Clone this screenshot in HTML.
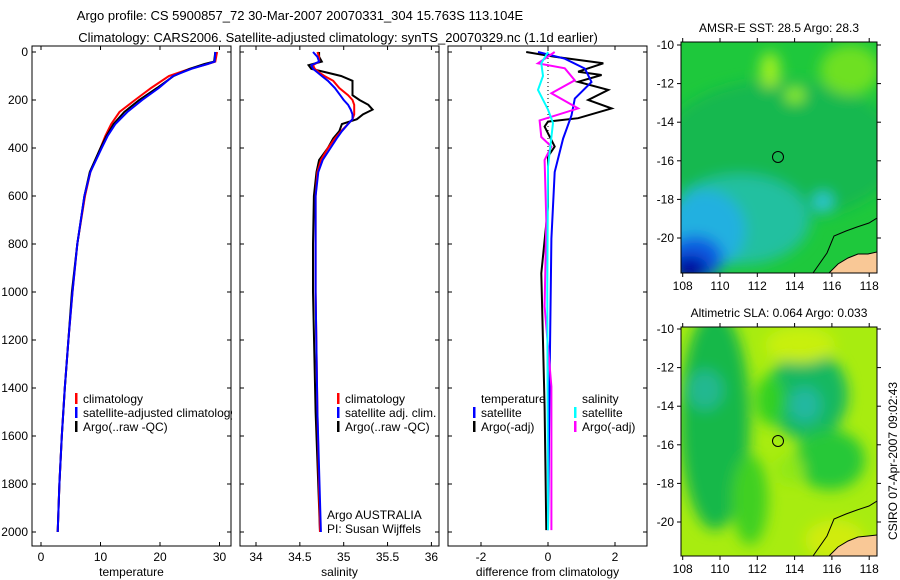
<!DOCTYPE html>
<html><head><meta charset="utf-8">
<style>
body{margin:0;background:#fff;}
svg{display:block;font-family:"Liberation Sans",sans-serif;}
</style></head>
<body>
<svg id="fig" width="900" height="580" viewBox="0 0 900 580">
<defs>
<filter id="blur6" x="-50%" y="-50%" width="200%" height="200%"><feGaussianBlur stdDeviation="7"/></filter>
<clipPath id="clipMap1"><rect x="681" y="42" width="196" height="231"/></clipPath>
<clipPath id="clipMap2"><rect x="681" y="327" width="196" height="229"/></clipPath>
<clipPath id="clipP1"><rect x="32" y="46" width="200" height="500"/></clipPath>
</defs>
<text x="300" y="20" font-size="13" text-anchor="middle">Argo profile: CS 5900857_72 30-Mar-2007 20070331_304 15.763S 113.104E</text>
<text x="338" y="42" font-size="13" text-anchor="middle">Climatology: CARS2006. Satellite-adjusted climatology: synTS_20070329.nc (1.1d earlier)</text>

<!-- Map 1: SST -->
<g>
<g clip-path="url(#clipMap1)">
<rect x="681" y="42" width="196" height="231" fill="#1ec83c"/>
<g filter="url(#blur6)">
<ellipse cx="780" cy="150" rx="120" ry="70" fill="#16b850"/>
<ellipse cx="740" cy="220" rx="70" ry="45" fill="#20c0a0"/>
<ellipse cx="705" cy="230" rx="40" ry="40" fill="#22b0e0"/>
<ellipse cx="695" cy="258" rx="28" ry="22" fill="#0a5ae0"/>
<ellipse cx="690" cy="268" rx="18" ry="12" fill="#0000a0"/>
<ellipse cx="823" cy="202" rx="9" ry="9" fill="#30c8e0"/>
<ellipse cx="850" cy="70" rx="30" ry="25" fill="#6ee020"/>
<ellipse cx="770" cy="70" rx="10" ry="18" fill="#a0f020"/>
<ellipse cx="795" cy="95" rx="10" ry="8" fill="#90f020"/>
</g>
<polygon points="829,273 838,264 848,258 858,254 868,254 877,252 877,273" fill="#f9c896"/>
<polyline points="813,273 827,253 834,236 846,231 857,227 869,223 877,218" fill="none" stroke="#000" stroke-width="1"/>
<polyline points="829,273 838,264 848,258 858,254 868,254 877,252" fill="none" stroke="#000" stroke-width="1"/>
<circle cx="778" cy="157" r="5.5" fill="none" stroke="#000" stroke-width="1"/>
</g>
<rect x="681" y="42" width="196" height="231" fill="none" stroke="#000"/>
<text x="779" y="32" font-size="12" text-anchor="middle">AMSR-E SST: 28.5 Argo: 28.3</text>
</g>

<!-- Map 2: SLA -->
<g>
<g clip-path="url(#clipMap2)">
<rect x="681" y="327" width="196" height="229" fill="#a8ec10"/>
<g filter="url(#blur6)">
<ellipse cx="715" cy="420" rx="35" ry="110" fill="#18b848"/>
<ellipse cx="705" cy="390" rx="18" ry="20" fill="#20b890"/>
<ellipse cx="808" cy="395" rx="40" ry="45" fill="#14b860"/>
<ellipse cx="805" cy="405" rx="16" ry="18" fill="#20b8a0"/>
<ellipse cx="770" cy="400" rx="14" ry="25" fill="#30d020"/>
<ellipse cx="830" cy="460" rx="35" ry="30" fill="#28c838"/>
<ellipse cx="750" cy="500" rx="18" ry="45" fill="#40d020"/>
<ellipse cx="790" cy="470" rx="14" ry="14" fill="#90e818"/>
<ellipse cx="800" cy="345" rx="35" ry="18" fill="#c8f010"/>
<ellipse cx="835" cy="540" rx="30" ry="20" fill="#d0ec10"/>
</g>
<polygon points="829,556 838,547 848,541 858,537 868,536 877,535 877,556" fill="#f9c896"/>
<polyline points="813,556 827,536 834,519 846,514 857,510 869,506 877,501" fill="none" stroke="#000" stroke-width="1"/>
<polyline points="829,556 838,547 848,541 858,537 868,536 877,535" fill="none" stroke="#000" stroke-width="1"/>
<circle cx="778" cy="441" r="5.5" fill="none" stroke="#000" stroke-width="1"/>
</g>
<rect x="681" y="327" width="196" height="229" fill="none" stroke="#000"/>
<text x="779" y="317" font-size="12" text-anchor="middle">Altimetric SLA: 0.064 Argo: 0.033</text>
</g>
<text x="0" y="0" font-size="12" text-anchor="middle" transform="translate(897,461) rotate(-90)">CSIRO 07-Apr-2007 09:02:43</text>
</svg>
<script>
// ---- data ----
var depthTicks = [0,200,400,600,800,1000,1200,1400,1600,1800,2000];
var tempTicks = [0,10,20,30];
var salTicks = [34,34.5,35,35.5,36];
var diffTicks = [-2,0,2];
var lonTicks = [108,110,112,114,116,118];
var latTicks = [-10,-12,-14,-16,-18,-20];

var tempDepth = [0,40,50,70,100,150,200,250,300,350,400,500,600,800,1000,1200,1400,1600,1800,2000];
var tempArgo = [29.3,29.1,27.5,25,22.3,19.5,16.5,14,12.2,11,10,8.2,7.3,6.1,5.2,4.6,4,3.5,3.1,2.8];
var tempClim = [29.6,29.3,28,25,21.5,18.5,15.8,13.2,11.8,10.8,10,8.3,7.4,6.1,5.3,4.6,4,3.5,3.1,2.8];
var tempSat = [29.3,29.2,28,25.3,22.2,19.8,17,14.5,12.5,11.2,10.2,8.3,7.3,6.1,5.3,4.6,4,3.5,3.1,2.8];

var salDepth = [0,20,40,55,70,85,100,120,150,180,200,220,240,260,280,300,330,360,400,450,500,600,800,1000,1500,2000];
var salArgo = [34.72,34.72,34.75,34.6,34.63,34.8,34.97,35.1,35.1,35.1,35.18,35.28,35.33,35.22,35.15,34.98,34.95,34.88,34.82,34.72,34.69,34.66,34.65,34.65,34.68,34.73];
var salClim = [34.7,34.72,34.72,34.65,34.67,34.72,34.78,34.88,34.95,35.05,35.1,35.12,35.12,35.12,35.1,35.05,34.97,34.9,34.82,34.74,34.7,34.68,34.68,34.68,34.7,34.73];
var salSat = [34.65,34.7,34.72,34.63,34.65,34.7,34.75,34.82,34.9,34.96,35.0,35.05,35.08,35.1,35.1,35.05,34.98,34.92,34.85,34.76,34.71,34.68,34.68,34.68,34.7,34.74];

var dTempArgoDepth = [0,20,47,82,96,124,158,200,235,276,290,311,394,436,644,922,1478,1992];
var dTempArgo = [-0.65,0.2,1.65,0.9,1.6,0.9,1.8,1.2,1.9,0.9,0.0,-0.1,0.2,0,0,-0.2,-0.1,-0.05];
var dTempSatDepth = [0,28,69,125,194,264,361,500,778,1333,1992];
var dTempSat = [-0.3,0.5,1.1,1.3,0.8,0.7,0.45,0.2,0.1,0.05,0];
var dSalSatDepth = [0,47,100,158,240,296,478,1000,1992];
var dSalSat = [0,-0.2,-0.15,-0.3,0,0.15,0,-0.02,0];
var dSalArgoDepth = [0,47,68,118,172,235,285,354,394,450,700,1060,1394,1992];
var dSalArgo = [0.2,-0.3,0.5,0.8,0.1,0.9,-0.25,-0.2,0.1,-0.1,-0.05,-0.1,0.1,0.1];

// ---- drawing ----
var NS = 'http://www.w3.org/2000/svg';
var svg = document.getElementById('fig');
function mk(tag, attrs, parent){
  var e = document.createElementNS(NS, tag);
  for (var k in attrs) e.setAttribute(k, attrs[k]);
  (parent || svg).appendChild(e);
  return e;
}
var yTop = 52, yScale = 0.24, boxTop = 46, boxBot = 546;
function yD(d){ return yTop + d * yScale; }

function panel(name, x0, x1, xf, ticks, label, showY){
  var g = mk('g', {});
  
  
  var r = mk('rect', {x:x0, y:boxTop, width:x1-x0, height:boxBot-boxTop, fill:'none', stroke:'#000'}, g);
  
  
  depthTicks.forEach(function(d){
    var y = yD(d);
    mk('line', {x1:x0, x2:x0+4, y1:y, y2:y, stroke:'#000'}, g);
    mk('line', {x1:x1-4, x2:x1, y1:y, y2:y, stroke:'#000'}, g);
    if (showY){
      var t = mk('text', {x:x0-4, y:y+4, 'font-size':12, 'text-anchor':'end'}, g);
      t.textContent = d;
      
      
    }
  });
  ticks.forEach(function(v){
    var x = xf(v);
    mk('line', {x1:x, x2:x, y1:boxTop, y2:boxTop+4, stroke:'#000'}, g);
    mk('line', {x1:x, x2:x, y1:boxBot-4, y2:boxBot, stroke:'#000'}, g);
    var t = mk('text', {x:x, y:boxBot+15, 'font-size':12, 'text-anchor':'middle'}, g);
    t.textContent = v;
    
    
  });
  var lt = mk('text', {x:(x0+x1)/2, y:576, 'font-size':12, 'text-anchor':'middle'}, g);
  lt.textContent = label;
  
  
  return g;
}
function series(g, name, depths, vals, xf, color, dash){
  var pts = depths.map(function(d,i){ return xf(vals[i]).toFixed(1) + ',' + yD(d).toFixed(1); }).join(' ');
  var p = mk('polyline', {points:pts, fill:'none', stroke:color, 'stroke-width':2}, g);
  if (dash) p.setAttribute('stroke-dasharray', dash);
  
  
}
function legend(g, x, y, color, text, name){
  if (color){
    var m = mk('rect', {x:x, y:y-10, width:2.5, height:11, fill:color}, g);
  }
  var t = mk('text', {x:x+8, y:y, 'font-size':12}, g);
  t.textContent = text;
  
  
}

// Panel 1: temperature
function xT(v){ return 41 + v * 5.95; }
var g1 = panel('temperature-panel', 32, 231, xT, tempTicks, 'temperature', true);
var g1c = mk('g', {'clip-path':'url(#clipP1)'}, g1);
series(g1, 'temp-climatology-line', tempDepth, tempClim, xT, '#ff0000');
series(g1, 'temp-argo-line', tempDepth, tempArgo, xT, '#000000');
series(g1, 'temp-satellite-line', tempDepth, tempSat, xT, '#0000ff');
legend(g1c, 75, 403, '#ff0000', 'climatology', 'legend-climatology');
legend(g1c, 75, 417, '#0000ff', 'satellite-adjusted climatology', 'legend-satellite-adjusted');
legend(g1c, 75, 431, '#000000', 'Argo(..raw -QC)', 'legend-argo');

// Panel 2: salinity
function xS(v){ return 256 + (v - 34) * 87.7; }
var g2 = panel('salinity-panel', 240, 439, xS, salTicks, 'salinity', false);
series(g2, 'sal-argo-line', salDepth, salArgo, xS, '#000000');
series(g2, 'sal-climatology-line', salDepth, salClim, xS, '#ff0000');
series(g2, 'sal-satellite-line', salDepth, salSat, xS, '#0000ff');
legend(g2, 337, 403, '#ff0000', 'climatology', 'legend-climatology');
legend(g2, 337, 417, '#0000ff', 'satellite adj. clim.', 'legend-satellite-adjusted');
legend(g2, 337, 431, '#000000', 'Argo(..raw -QC)', 'legend-argo');
legend(g2, 319, 519, null, 'Argo AUSTRALIA', 'argo-australia-label');
legend(g2, 319, 533, null, 'PI: Susan Wijffels', 'pi-label');

// Panel 3: difference
function xDf(v){ return 548 + v * 33.5; }
var g3 = panel('difference-panel', 448, 647, xDf, diffTicks, 'difference from climatology', false);
var zl = mk('line', {x1:xDf(0), x2:xDf(0), y1:boxTop, y2:yD(700), stroke:'#000', 'stroke-dasharray':'1,3'}, g3);


series(g3, 'diff-temp-argo-line', dTempArgoDepth, dTempArgo, xDf, '#000000');
series(g3, 'diff-temp-satellite-line', dTempSatDepth, dTempSat, xDf, '#0000ff');
series(g3, 'diff-sal-argo-line', dSalArgoDepth, dSalArgo, xDf, '#ff00ff');
series(g3, 'diff-sal-satellite-line', dSalSatDepth, dSalSat, xDf, '#00ffff');
legend(g3, 473, 403, null, 'temperature', 'legend-temperature-header');
legend(g3, 473, 417, '#0000ff', 'satellite', 'legend-temp-satellite');
legend(g3, 473, 431, '#000000', 'Argo(-adj)', 'legend-temp-argo');
legend(g3, 574, 403, null, 'salinity', 'legend-salinity-header');
legend(g3, 574, 417, '#00ffff', 'satellite', 'legend-sal-satellite');
legend(g3, 574, 431, '#ff00ff', 'Argo(-adj)', 'legend-sal-argo');

// Map axes
function mapAxes(name, top, bot, latY0, latScale){
  var g = mk('g', {});
  
  
  lonTicks.forEach(function(lon){
    var x = 682.7 + (lon - 108) * 18.65;
    mk('line', {x1:x, x2:x, y1:top, y2:top-4, stroke:'#000'}, g);
    mk('line', {x1:x, x2:x, y1:bot, y2:bot+4, stroke:'#000'}, g);
    var t = mk('text', {x:x, y:bot+17, 'font-size':12, 'text-anchor':'middle'}, g);
    t.textContent = lon;
    
    
  });
  latTicks.forEach(function(lat){
    var y = latY0 + (-10 - lat) * latScale;
    mk('line', {x1:677, x2:681, y1:y, y2:y, stroke:'#000'}, g);
    mk('line', {x1:877, x2:881, y1:y, y2:y, stroke:'#000'}, g);
    var t = mk('text', {x:674, y:y+4, 'font-size':12, 'text-anchor':'end'}, g);
    t.textContent = lat;
    
    
  });
}
mapAxes('sst-map-axes', 42, 273, 45, 19.3);
mapAxes('sla-map-axes', 327, 556, 329, 19.3);
</script>
</body></html>
